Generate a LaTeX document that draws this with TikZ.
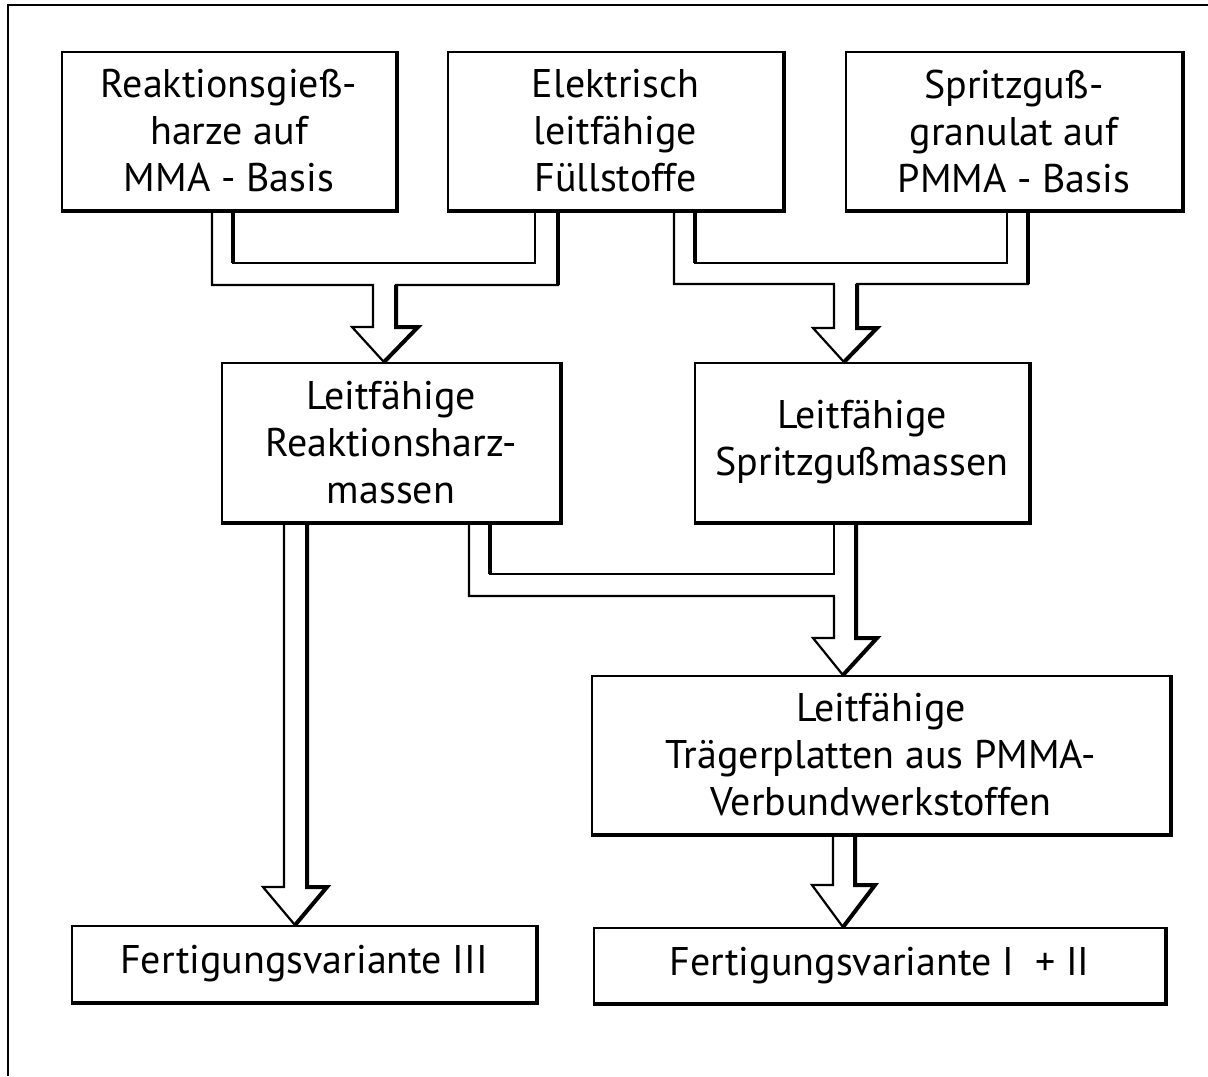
\documentclass[tikz,border=0pt]{standalone}
\usepackage{fontspec}
\setmainfont{PT Sans}
\usetikzlibrary{positioning, calc}

\tikzset{
	stepbox/.style={draw, line width=0.9pt, fill=white, align=center, inner sep=0pt, font=\fontsize{20}{23.5}\selectfont},
	shadowline/.style={line width=2pt, line join=miter},
	pipe/.style={line width=1.1pt, line join=miter},
}

\begin{document}
\begin{tikzpicture}[x=0.5pt, y=-0.5pt]
		\useasboundingbox (0,0) rectangle (1208,1076);
		\draw[line width=0.7pt] (8,1076) -- (8,5) -- (1208,5);
		
		% Ausgangsstoffe
		\node[stepbox, minimum width=167pt, minimum height=79pt] (rgh) at (229,131) {Reaktionsgieß-\\harze auf\\MMA - Basis};
		\node[stepbox, minimum width=167.5pt, minimum height=79pt] (elf) at (615.5,131) {Elektrisch\\leitfähige\\Füllstoffe};
		\node[stepbox, minimum width=168pt, minimum height=79pt] (sgg) at (1014,131) {Spritzguß-\\granulat auf\\PMMA - Basis};
		
		% Zwischenprodukte
		\node[stepbox, minimum width=169pt, minimum height=79.5pt] (lrm) at (391,442.5) {Leitfähige\\Reaktionsharz-\\massen};
		\node[stepbox, minimum width=167pt, minimum height=79.5pt] (lsm) at (862,442.5) {Leitfähige\\Spritzgußmassen};
		\node[stepbox, minimum width=289pt, minimum height=79pt] (ltp) at (881,755) {Leitfähige\\Trägerplatten aus PMMA-\\Verbundwerkstoffen};
		
		% Varianten
		\node[stepbox, minimum width=232pt, minimum height=38pt] (fv3) at (304,964) {Fertigungsvariante III};
		\node[stepbox, minimum width=285.5pt, minimum height=37.5pt] (fv12) at (879.5,965.5) {Fertigungsvariante I\ \ +\ II};
		
		\foreach \n in {rgh, elf, sgg, lrm, lsm, ltp, fv3, fv12}
			\draw[shadowline] (\n.north east) -- (\n.south east) -- (\n.south west);
		
		% Hohlpfeile oben
		\draw[pipe] (rgh.south -| 212,0) -- (212,285) -- (373,285) -- (373,327) -- (352,327) -- (lrm.north -| 384,0) -- (418,327) -- (396,327) -- (396,285) -- (558,285) -- (elf.south -| 558,0);
		\draw[pipe] (rgh.south -| 233,0) -- (233,263) -- (535,263) -- (elf.south -| 535,0);
		\draw[shadowline] (lrm.north -| 384,0) -- (418,327) -- (396,327) -- (396,285);
		\draw[shadowline] (elf.south -| 558,0) -- (558,285);
		\draw[shadowline] (rgh.south -| 233,0) -- (233,263);
		
		\draw[pipe] (elf.south -| 674,0) -- (674,284) -- (834,284) -- (834,328) -- (813,328) -- (lsm.north -| 844,0) -- (877,328) -- (857,328) -- (857,284) -- (1028,284) -- (sgg.south -| 1028,0);
		\draw[pipe] (elf.south -| 695,0) -- (695,263) -- (1007,263) -- (sgg.south -| 1007,0);
		\draw[shadowline] (lsm.north -| 844,0) -- (877,328) -- (857,328) -- (857,284);
		\draw[shadowline] (sgg.south -| 1028,0) -- (1028,284);
		\draw[shadowline] (elf.south -| 695,0) -- (695,263);
		
		% Hohlpfeile Mitte
		\draw[pipe] (lrm.south -| 469,0) -- (469,596) -- (834,596) -- (834,638) -- (813,638) -- (ltp.north -| 843,0) -- (877,638) -- (856,638) -- (lsm.south -| 856,0);
		\draw[pipe] (lrm.south -| 490,0) -- (490,574) -- (834,574) -- (lsm.south -| 834,0);
		\draw[shadowline] (ltp.north -| 843,0) -- (877,638) -- (856,638) -- (lsm.south -| 856,0);
		\draw[shadowline] (lrm.south -| 490,0) -- (490,574);
		
		% Hohlpfeile unten
		\draw[pipe] (lrm.south -| 284,0) -- (284,887) -- (263,887) -- (fv3.north -| 295,0) -- (327,887) -- (307,887) -- (lrm.south -| 307,0);
		\draw[shadowline] (fv3.north -| 295,0) -- (327,887) -- (307,887) -- (lrm.south -| 307,0);
		
		\draw[pipe] (ltp.south -| 833,0) -- (833,885) -- (812,885) -- (fv12.north -| 843,0) -- (875,885) -- (855,885) -- (ltp.south -| 855,0);
		\draw[shadowline] (fv12.north -| 843,0) -- (875,885) -- (855,885) -- (ltp.south -| 855,0);
\end{tikzpicture}
\end{document}
